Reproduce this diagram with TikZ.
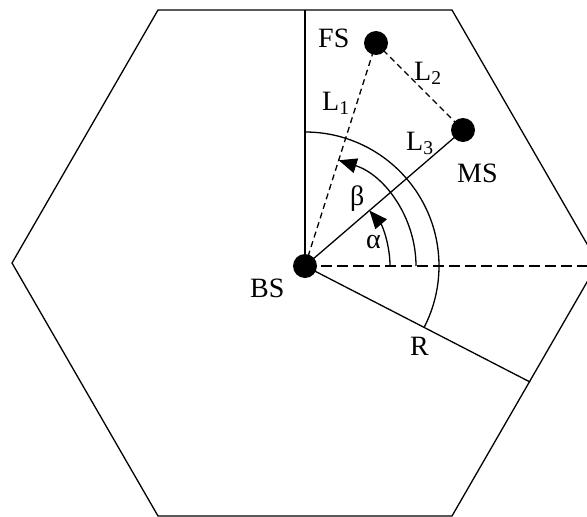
\documentclass[tikz,border=0pt]{standalone}
\usepackage{fontspec}
\setmainfont{Liberation Serif}
\usetikzlibrary{arrows.meta}
\begin{document}
\begin{tikzpicture}[x=1pt,y=1pt,
  ln/.style={line width=1.3pt},
  shortdash/.style={ln, dash pattern=on 6pt off 4pt},
  longdash/.style={ln, dash pattern=on 11pt off 5pt},
  station/.style={circle, fill=black, inner sep=0pt, minimum size=24pt},
  lbl/.style={anchor=base west, inner sep=0pt, font=\fontsize{28}{30}\selectfont},
  arr/.style={ln, -{Triangle[length=18pt, width=15pt]}}]
\clip (0,0) rectangle (587,-517);
% hexagon
\draw[ln] (158,-10) -- (452,-10) -- (598,-263) -- (452,-516) -- (158,-516) -- (12,-263) -- cycle;
% stations
\node[station] (bs) at (305,-266) {};
\node[station] (fs) at (376,-43) {};
\node[station] (ms) at (463,-130) {};
\coordinate (top) at (305,-10);
\coordinate (redge) at (530,-382);
\coordinate (right) at (600,-266);
% lines
\draw[ln] (bs.center) -- (top);
\draw[ln] (bs.center) -- (redge);
\draw[longdash] (bs.center) -- (right);
\draw[ln] (bs.center) -- (ms.center);
\draw[shortdash] (bs.center) -- (fs.center);
\draw[shortdash] (fs.center) -- (ms.center);
% arcs
\draw[ln] (bs.center) ++(90:134) arc[start angle=90, end angle=-27.3, radius=134];
\draw[arr] (bs.center) ++(0:111) arc[start angle=0, end angle=72.3, radius=111];
\draw[arr] (bs.center) ++(0:85) arc[start angle=0, end angle=40.7, radius=85];
% labels
\node[lbl] (tfs) at (318,-47) {FS};
\node[lbl] (tms) at (457,-182) {MS};
\node[lbl] (tbs) at (250,-297) {BS};
\node[lbl] (tr) at (410,-355) {R};
\node[lbl] (tl1) at (322,-110) {L\textsubscript{1}};
\node[lbl] (tl2) at (414,-80) {L\textsubscript{2}};
\node[lbl] (tl3) at (406,-150) {L\textsubscript{3}};
\node[lbl] (tb) at (350,-205) {β};
\node[lbl] (ta) at (366,-248) {α};
\end{tikzpicture}
\end{document}
